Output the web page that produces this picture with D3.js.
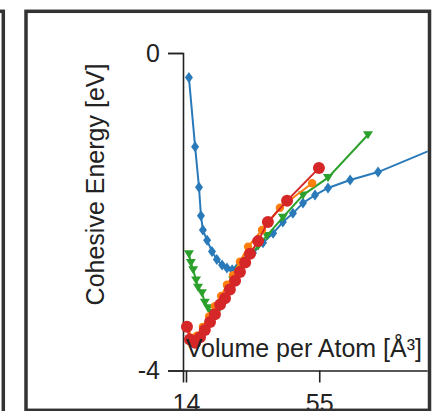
<!DOCTYPE html>
<html>
<head>
<meta charset="utf-8">
<script src="https://cdn.jsdelivr.net/npm/d3@7"></script>
<style>
  html, body { margin: 0; padding: 0; background: #fff; }
  svg { display: block; }
  text { font-family: "Liberation Sans", Arial, Helvetica, sans-serif; fill: #222; }
</style>
</head>
<body>
<svg id="chart" width="433" height="411"></svg>
<script>
// volume per atom [Å³] and cohesive energy [eV]
const blueX = [14.9, 16.8, 18.0, 18.6, 19.2, 20.5, 22.0, 23.5, 25.1, 26.6, 28.2, 29.7, 31.5, 34.6, 37.7, 40.8, 43.8, 46.9, 50.0, 53.7, 57.7, 64.5, 73.1, 98.3];
const blueY = [-0.31, -1.18, -1.69, -2.05, -2.23, -2.36, -2.50, -2.60, -2.67, -2.71, -2.73, -2.71, -2.64, -2.52, -2.39, -2.27, -2.13, -2.02, -1.89, -1.79, -1.70, -1.60, -1.50, -1.07];

const greenX = [14.9, 15.5, 16.2, 17.1, 17.7, 18.9, 19.8, 20.8, 21.7, 22.6, 23.8, 25.4, 26.9, 28.5, 30.6, 33.1, 36.2, 38.9, 43.8, 50.0, 57.7, 70.0];
const greenY = [-2.53, -2.64, -2.73, -2.86, -2.95, -3.02, -3.14, -3.21, -3.27, -3.31, -3.25, -3.11, -2.98, -2.86, -2.73, -2.58, -2.43, -2.30, -2.07, -1.79, -1.57, -1.03];

const orangeX = [14.3, 15.8, 17.4, 19.2, 21.1, 22.9, 24.8, 26.6, 28.5, 30.6, 33.1, 37.4, 42.9, 52.8];
const orangeY = [-3.43, -3.59, -3.56, -3.45, -3.32, -3.19, -3.06, -2.92, -2.80, -2.63, -2.44, -2.23, -1.95, -1.64];

const redX = [14.3, 15.2, 16.8, 18.3, 19.8, 21.4, 22.9, 24.5, 26.0, 27.5, 29.1, 30.6, 32.2, 33.7, 36.2, 39.2, 45.1, 54.9];
const redY = [-3.45, -3.61, -3.65, -3.58, -3.49, -3.39, -3.29, -3.17, -3.09, -2.98, -2.87, -2.76, -2.64, -2.53, -2.37, -2.13, -1.86, -1.45];

const xTicks = [14, 55];
const yTicks = [0, -4];

const svg = d3.select("#chart");

// neighbouring panel edge on the left
svg.append("rect")
    .attr("x", -400).attr("y", 11.3)
    .attr("width", 403.3).attr("height", 420)
    .attr("fill", "none").attr("stroke", "#333").attr("stroke-width", 3.5);

svg.append("defs").append("clipPath").attr("id", "inside")
    .append("rect")
    .attr("x", 28).attr("y", 13).attr("width", 399.7).attr("height", 400);

const g = svg.append("g").attr("clip-path", "url(#inside)");

const x = d3.scaleLinear().domain([13.08, 100]).range([183, 465.5]);
const y = d3.scaleLinear().domain([-4, 0]).range([370.5, 53]);

const xAxis = g.append("g")
    .attr("transform", `translate(0,${y(-4)})`)
    .call(d3.axisBottom(x).tickValues(xTicks).tickSize(12).tickPadding(12).tickFormat(d3.format("d")));
const yAxis = g.append("g")
    .attr("transform", `translate(${x.range()[0]},0)`)
    .call(d3.axisLeft(y).tickValues(yTicks).tickSize(15).tickPadding(8).tickFormat(d => d === 0 ? "0" : "-" + Math.abs(d)));

[xAxis, yAxis].forEach(a => {
    a.selectAll("path, line").attr("stroke", "#222").attr("stroke-width", 1.6);
    a.selectAll("text").attr("font-size", 25).style("fill", "#222");
});

g.append("text")
    .attr("transform", "translate(104,184.5) rotate(-90)")
    .attr("text-anchor", "middle")
    .attr("font-size", 25)
    .text("Cohesive Energy [eV]");

const zip = (xs, ys) => xs.map((v, i) => [v, ys[i]]);
const line = d3.line().x(d => x(d[0])).y(d => y(d[1]));

const series = [
    { name: "blue", xs: blueX, ys: blueY, color: "#2a7ab9", width: 2, marker: "diamond" },
    { name: "green", xs: greenX, ys: greenY, color: "#2ca02c", width: 2, marker: "tri" },
    { name: "orange", xs: orangeX, ys: orangeY, color: "#ff7f0e", width: 2, marker: "circleS" },
    { name: "red", xs: redX, ys: redY, color: "#d62728", width: 2, marker: "circle" }
];

const markerPath = {
    diamond: "M0,-5.5L4,0L0,5.5L-4,0Z",
    tri: "M-5,-3.5L5,-3.5L0,4.6Z"
};

series.forEach(s => {
    const pts = zip(s.xs, s.ys);
    const sg = g.append("g").attr("class", s.name);
    sg.append("path")
        .datum(pts)
        .attr("d", line)
        .attr("fill", "none")
        .attr("stroke", s.color)
        .attr("stroke-width", s.width);
    if (s.marker === "circle" || s.marker === "circleS") {
        sg.selectAll("circle").data(pts).join("circle")
            .attr("cx", d => x(d[0])).attr("cy", d => y(d[1]))
            .attr("r", s.marker === "circle" ? 6 : 4.2)
            .attr("fill", s.color);
    } else {
        sg.selectAll(".m").data(pts).join("path")
            .attr("class", "m")
            .attr("transform", d => `translate(${x(d[0])},${y(d[1])})`)
            .attr("d", markerPath[s.marker])
            .attr("fill", s.color);
    }
});

g.append("text")
    .attr("x", 422).attr("y", 357)
    .attr("text-anchor", "end")
    .attr("font-size", 25)
    .text("Volume per Atom [Å³]");

// panel frame
svg.append("rect")
    .attr("x", 26).attr("y", 11.3)
    .attr("width", 403.5).attr("height", 399)
    .attr("fill", "none").attr("stroke", "#333").attr("stroke-width", 3.5);
</script>
</body>
</html>
